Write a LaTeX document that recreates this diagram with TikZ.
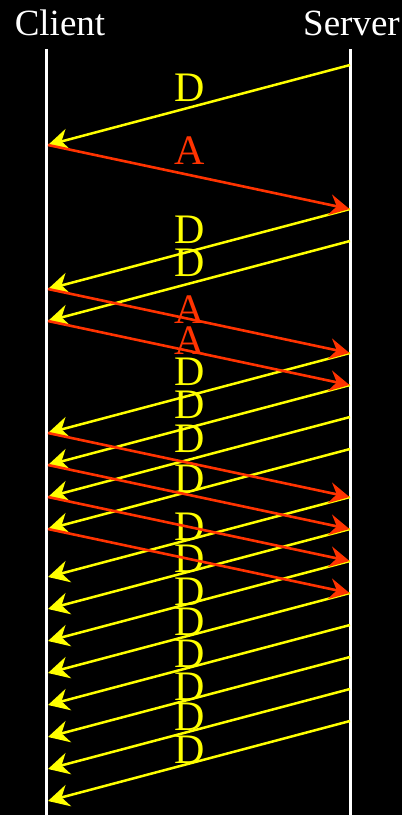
\documentclass[tikz,border=0pt]{standalone}
\usepackage{fontspec}
\setmainfont{Liberation Serif}
\usetikzlibrary{arrows.meta}
\definecolor{pktyellow}{RGB}{255,255,0}
\definecolor{ackred}{RGB}{255,51,0}
\tikzset{
  host/.style={text=white,inner sep=0pt,anchor=base,font=\fontsize{37}{40}\selectfont},
  life/.style={draw=white,line width=3pt},
  dpkt/.style={draw=pktyellow,line width=2.5pt,-{Stealth[length=21pt,width=22pt,inset=7pt]}},
  ack/.style={draw=ackred,line width=2.6pt,-{Stealth[length=20pt,width=21pt,inset=7pt]}},
  dlbl/.style={text=pktyellow,inner sep=0pt,anchor=base,font=\fontsize{42}{44}\selectfont},
  albl/.style={text=ackred,inner sep=0pt,anchor=base,font=\fontsize{42}{44}\selectfont},
}

\begin{document}
\begin{tikzpicture}[x=1pt,y=-1pt]
  \path[use as bounding box,fill=black] (0,0) rectangle (402,815);
  % hosts
  \node[host] (client) at (60,35) {Client};
  \node[host] (server) at (351.5,35) {Server};
  \coordinate (ctop) at (46.5,49); \coordinate (cbot) at (46.5,815);
  \coordinate (stop) at (350.5,49); \coordinate (sbot) at (350.5,815);
  \draw[life] (ctop)--(cbot); \draw[life] (stop)--(sbot);
  % data segments, server -> client
  \foreach \s/\d [count=\i] in {65/36,209/34,241/35,353/32,385/33,417/35,449/43,497/43,
      529/43,561/44,593/42,625/42,657/43,689/41,721/42}{
    \coordinate (ds\i) at (350,\s);
    \coordinate (dc\i) at (48,\s+80);
    \draw[dpkt] (ds\i) -- node[dlbl,pos=0.53,yshift=42.4-\d] (dl\i) {D} (dc\i);
  }
  % acks, client -> server
  \foreach \c/\d [count=\i] in {145/19,289/34,321/33}{
    \coordinate (ac\i) at (48,\c);
    \coordinate (as\i) at (349.5,\c+64);
    \draw[ack] (ac\i) -- node[albl,pos=0.471,yshift=30.1-\d] (al\i) {A} (as\i);
  }
  \foreach \c [count=\i from 4] in {433,465,497,529}{
    \coordinate (ac\i) at (48,\c);
    \coordinate (as\i) at (349.5,\c+64);
    \draw[ack] (ac\i) -- (as\i);
  }
\end{tikzpicture}
\end{document}
